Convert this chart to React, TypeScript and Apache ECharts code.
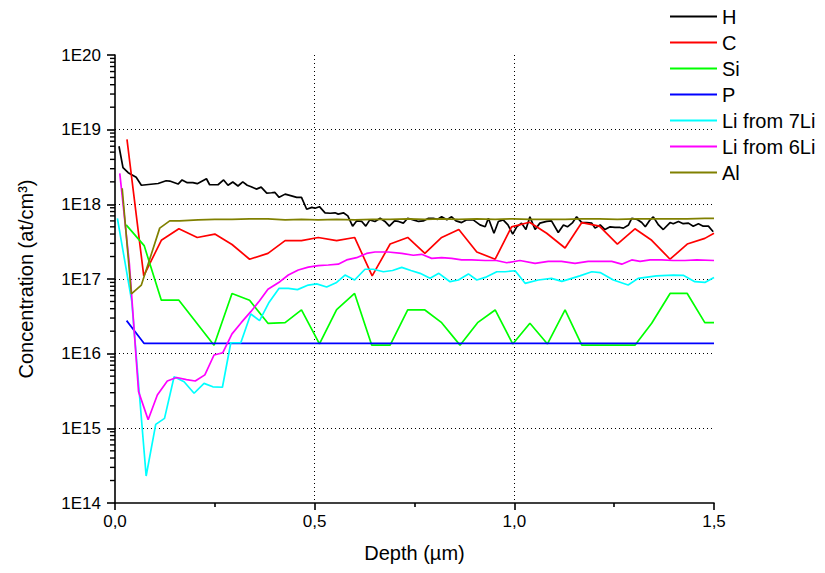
import React, { useEffect, useRef } from "react";
import * as echarts from "echarts";

const seriesNames = ["H", "C", "Si", "P", "Li from 7Li", "Li from 6Li", "Al"];
const seriesColors = ["#000000", "#ff0000", "#00ff00", "#0000ff", "#00ffff", "#ff00ff", "#808000"];

const hDepth = [0.010, 0.020, 0.033, 0.053, 0.066, 0.108, 0.128, 0.137, 0.158, 0.168, 0.181, 0.195, 0.206, 0.229, 0.237, 0.258, 0.272, 0.283, 0.295, 0.308, 0.320, 0.331, 0.341, 0.354, 0.366, 0.380, 0.392, 0.400, 0.411, 0.426, 0.442, 0.455, 0.467, 0.480, 0.493, 0.501, 0.512, 0.526, 0.539, 0.551, 0.559, 0.572, 0.583, 0.595, 0.605, 0.618, 0.628, 0.638, 0.651, 0.664, 0.676, 0.687, 0.700, 0.710, 0.722, 0.733, 0.747, 0.760, 0.772, 0.785, 0.797, 0.808, 0.818, 0.831, 0.843, 0.854, 0.868, 0.881, 0.897, 0.914, 0.927, 0.935, 0.949, 0.960, 0.972, 0.984, 0.996, 1.006, 1.018, 1.029, 1.039, 1.052, 1.064, 1.081, 1.093, 1.110, 1.123, 1.133, 1.146, 1.156, 1.169, 1.181, 1.194, 1.202, 1.215, 1.227, 1.240, 1.252, 1.265, 1.273, 1.286, 1.294, 1.307, 1.319, 1.328, 1.340, 1.348, 1.361, 1.373, 1.390, 1.398, 1.411, 1.423, 1.436, 1.448, 1.461, 1.473, 1.486, 1.498];
const hConc = [6.0e18, 3.1e18, 2.65e18, 2.3e18, 1.8e18, 1.9e18, 2.07e18, 2.05e18, 1.87e18, 2.12e18, 1.95e18, 1.95e18, 1.89e18, 2.2e18, 1.83e18, 1.83e18, 2.12e18, 1.8e18, 1.99e18, 1.76e18, 2.0e18, 1.8e18, 1.72e18, 1.6e18, 1.7e18, 1.41e18, 1.43e18, 1.45e18, 1.24e18, 1.37e18, 1.3e18, 1.24e18, 1.24e18, 8.6e17, 9.1e17, 8.85e17, 9.3e17, 7.7e17, 7.6e17, 7.7e17, 7.4e17, 7.7e17, 7.0e17, 5.1e17, 6.0e17, 5.9e17, 5.1e17, 6.2e17, 5.9e17, 6.5e17, 5.9e17, 5.1e17, 6.0e17, 5.9e17, 5.6e17, 6.5e17, 6.2e17, 5.9e17, 6.0e17, 6.5e17, 6.5e17, 6.3e17, 6.8e17, 6.2e17, 6.8e17, 6.0e17, 5.7e17, 6.2e17, 6.2e17, 5.3e17, 5.0e17, 6.5e17, 4.1e17, 5.9e17, 6.2e17, 5.3e17, 4.0e17, 5.0e17, 5.6e17, 4.6e17, 6.8e17, 4.6e17, 5.6e17, 5.9e17, 6.0e17, 4.2e17, 5.3e17, 5.0e17, 5.7e17, 6.8e17, 5.7e17, 5.7e17, 5.6e17, 4.8e17, 5.3e17, 4.6e17, 5.0e17, 4.9e17, 4.9e17, 4.8e17, 5.3e17, 6.5e17, 6.3e17, 5.7e17, 5.0e17, 6.2e17, 6.8e17, 5.3e17, 4.6e17, 5.7e17, 5.5e17, 5.9e17, 5.5e17, 5.6e17, 5.1e17, 5.5e17, 5.1e17, 5.1e17, 4.3e17];

const cDepth = [0.030, 0.072, 0.116, 0.160, 0.206, 0.250, 0.293, 0.337, 0.383, 0.426, 0.467, 0.509, 0.555, 0.600, 0.644, 0.689, 0.733, 0.776, 0.818, 0.861, 0.906, 0.952, 0.993, 1.038, 1.081, 1.127, 1.169, 1.213, 1.258, 1.302, 1.344, 1.390, 1.433, 1.477, 1.500];
const cConc = [7.4e18, 1.1e17, 3.3e17, 4.7e17, 3.6e17, 4.0e17, 2.9e17, 1.84e17, 2.2e17, 3.26e17, 3.26e17, 3.6e17, 3.26e17, 3.6e17, 1.1e17, 2.94e17, 3.6e17, 2.2e17, 3.6e17, 4.6e17, 2.3e17, 1.84e17, 5.0e17, 5.75e17, 4.1e17, 2.6e17, 5.7e17, 5.1e17, 2.94e17, 4.7e17, 3.3e17, 1.84e17, 2.94e17, 3.5e17, 4.1e17];

const siDepth = [0.028, 0.073, 0.116, 0.160, 0.248, 0.293, 0.337, 0.383, 0.426, 0.467, 0.512, 0.555, 0.600, 0.643, 0.689, 0.733, 0.776, 0.818, 0.864, 0.908, 0.952, 0.996, 1.039, 1.083, 1.127, 1.169, 1.302, 1.344, 1.390, 1.433, 1.477, 1.500];
const siConc = [5.3e17, 2.8e17, 5.2e16, 5.2e16, 1.3e16, 6.4e16, 5.2e16, 2.55e16, 2.6e16, 3.85e16, 1.35e16, 3.9e16, 6.4e16, 1.3e16, 1.3e16, 3.85e16, 3.85e16, 2.6e16, 1.3e16, 2.6e16, 3.85e16, 1.35e16, 2.55e16, 1.35e16, 3.85e16, 1.3e16, 1.3e16, 2.55e16, 6.4e16, 6.4e16, 2.6e16, 2.6e16];

const pDepth = [0.029, 0.073, 1.500];
const pConc = [2.77e16, 1.37e16, 1.37e16];

const li7Depth = [0.006, 0.042, 0.078, 0.102, 0.124, 0.148, 0.173, 0.198, 0.223, 0.245, 0.269, 0.290, 0.315, 0.340, 0.362, 0.386, 0.411, 0.434, 0.457, 0.484, 0.505, 0.530, 0.555, 0.576, 0.600, 0.626, 0.647, 0.672, 0.695, 0.718, 0.741, 0.764, 0.789, 0.811, 0.839, 0.860, 0.885, 0.906, 0.927, 0.956, 0.977, 1.002, 1.027, 1.060, 1.093, 1.119, 1.164, 1.194, 1.215, 1.248, 1.285, 1.310, 1.356, 1.398, 1.423, 1.452, 1.477, 1.500];
const li7Conc = [6.5e17, 5.0e16, 2.3e14, 1.13e15, 1.36e15, 4.9e15, 4.2e15, 2.95e15, 4.0e15, 3.6e15, 3.55e15, 1.4e16, 1.4e16, 3.4e16, 2.77e16, 4.9e16, 7.5e16, 7.5e16, 7.2e16, 8.3e16, 8.6e16, 7.8e16, 9.0e16, 1.13e17, 9.7e16, 1.35e17, 1.35e17, 1.25e17, 1.3e17, 1.43e17, 1.3e17, 1.19e17, 1.02e17, 1.19e17, 9.2e16, 9.7e16, 1.17e17, 9.7e16, 1.05e17, 1.25e17, 1.25e17, 1.29e17, 8.75e16, 9.7e16, 1.02e17, 9.3e16, 1.1e17, 1.25e17, 1.22e17, 9.7e16, 8.3e16, 1.02e17, 1.1e17, 1.13e17, 1.12e17, 9.2e16, 9.0e16, 1.05e17];

const li6Depth = [0.012, 0.036, 0.059, 0.083, 0.106, 0.131, 0.154, 0.179, 0.201, 0.225, 0.248, 0.270, 0.293, 0.316, 0.340, 0.362, 0.383, 0.413, 0.434, 0.459, 0.484, 0.509, 0.534, 0.559, 0.580, 0.605, 0.630, 0.651, 0.684, 0.718, 0.747, 0.768, 0.793, 0.818, 0.843, 0.868, 0.893, 0.927, 0.955, 0.981, 1.014, 1.052, 1.085, 1.118, 1.152, 1.185, 1.219, 1.244, 1.269, 1.294, 1.315, 1.340, 1.369, 1.398, 1.427, 1.457, 1.500];
const li6Conc = [2.6e18, 1.6e17, 3.1e15, 1.3e15, 2.8e15, 4.3e15, 4.8e15, 4.5e15, 4.3e15, 5.2e15, 9.6e15, 1.03e16, 1.84e16, 2.6e16, 3.65e16, 5.1e16, 7.3e16, 9.2e16, 1.13e17, 1.32e17, 1.44e17, 1.51e17, 1.54e17, 1.58e17, 1.8e17, 1.93e17, 2.2e17, 2.3e17, 2.3e17, 2.2e17, 2.08e17, 2.14e17, 1.89e17, 1.93e17, 1.89e17, 1.8e17, 1.8e17, 1.77e17, 1.77e17, 1.65e17, 1.77e17, 1.62e17, 1.72e17, 1.72e17, 1.62e17, 1.72e17, 1.72e17, 1.72e17, 1.58e17, 1.8e17, 1.72e17, 1.8e17, 1.8e17, 1.77e17, 1.77e17, 1.8e17, 1.77e17];

const alDepth = [0.018, 0.041, 0.066, 0.112, 0.137, 0.162, 0.208, 0.250, 0.293, 0.337, 0.383, 0.426, 0.467, 0.509, 0.555, 0.600, 0.644, 0.689, 0.733, 0.776, 0.818, 0.861, 0.906, 0.952, 0.996, 1.039, 1.083, 1.127, 1.169, 1.213, 1.258, 1.302, 1.344, 1.390, 1.433, 1.477, 1.500];
const alConc = [1.64e18, 6.3e16, 8.3e16, 4.8e17, 6.0e17, 6.0e17, 6.2e17, 6.3e17, 6.3e17, 6.4e17, 6.4e17, 6.2e17, 6.3e17, 6.2e17, 6.3e17, 6.2e17, 6.3e17, 6.3e17, 6.4e17, 6.3e17, 6.4e17, 6.3e17, 6.4e17, 6.3e17, 6.4e17, 6.3e17, 6.3e17, 6.3e17, 6.4e17, 6.4e17, 6.3e17, 6.4e17, 6.4e17, 6.4e17, 6.4e17, 6.5e17, 6.5e17];

const xTicks = [0, 0.5, 1.0, 1.5];
const yDecades = [14, 15, 16, 17, 18, 19, 20];
const minorMultipliers = [2, 3, 4, 5, 6, 7, 8, 9];

const FONT = "'Liberation Sans', Arial, sans-serif";

function zip(xs: number[], ys: number[]) {
  return xs.map((x, i) => [x, ys[i]]);
}

export default function App() {
  const ref = useRef<HTMLDivElement>(null);
  useEffect(() => {
    if (!ref.current) return;
    const chart = echarts.init(ref.current, undefined, { renderer: "svg" });
    const allDepths = [hDepth, cDepth, siDepth, pDepth, li7Depth, li6Depth, alDepth];
    const allConc = [hConc, cConc, siConc, pConc, li7Conc, li6Conc, alConc];
    const minorVals: number[][] = [];
    for (let i = 0; i < yDecades.length - 1; i++) {
      for (const m of minorMultipliers) minorVals.push([0, m * Math.pow(10, yDecades[i])]);
    }
    const lineSeries = seriesNames.map((name, i) => ({
      name,
      type: "line",
      data: zip(allDepths[i], allConc[i]),
      symbol: "none",
      showSymbol: false,
      lineStyle: { color: seriesColors[i], width: 1.7 },
      itemStyle: { color: seriesColors[i] },
      clip: true,
      z: 3,
    }));
    chart.setOption({
      animation: false,
      textStyle: { fontFamily: FONT },
      grid: { left: 115, right: 111, top: 55, bottom: 70, containLabel: false },
      legend: {
        data: seriesNames,
        orient: "vertical",
        left: 665,
        top: 1,
        icon: "rect",
        itemWidth: 47,
        itemHeight: 2,
        itemGap: 5,
        textStyle: { fontFamily: FONT, fontSize: 20, color: "#000", lineHeight: 21 },
      },
      xAxis: {
        type: "value",
        min: xTicks[0],
        max: xTicks[xTicks.length - 1],
        interval: 0.5,
        name: "Depth (µm)",
        nameLocation: "middle",
        nameGap: 40,
        nameTextStyle: { fontFamily: FONT, fontSize: 20, color: "#000" },
        axisLine: { show: true, onZero: false, lineStyle: { color: "#000", width: 1.6 } },
        axisTick: { show: true, inside: false, length: 7, lineStyle: { color: "#000", width: 1.6 } },
        minorTick: { show: true, splitNumber: 2, length: 4, lineStyle: { color: "#000", width: 1.6 } },
        axisLabel: {
          fontFamily: FONT,
          fontSize: 17,
          color: "#000",
          margin: 10,
          formatter: (v: number) => v.toFixed(1).replace(".", ","),
        },
        splitLine: {
          show: true,
          showMinLine: false,
          showMaxLine: false,
          lineStyle: { color: "#000", width: 1, type: [1, 3] },
        },
      },
      yAxis: {
        type: "log",
        logBase: 10,
        min: Math.pow(10, yDecades[0]),
        max: Math.pow(10, yDecades[yDecades.length - 1]),
        splitNumber: 6,
        name: "Concentration (at/cm³)",
        nameLocation: "middle",
        nameGap: 79,
        nameTextStyle: { fontFamily: FONT, fontSize: 20, color: "#000" },
        axisLine: { show: true, onZero: false, lineStyle: { color: "#000", width: 1.6 } },
        axisTick: { show: true, inside: false, length: 8, lineStyle: { color: "#000", width: 1.6 } },
        axisLabel: {
          fontFamily: FONT,
          fontSize: 17,
          color: "#000",
          margin: 14,
          formatter: (v: number) => "1E" + Math.round(Math.log10(v)),
        },
        splitLine: {
          show: true,
          showMinLine: false,
          showMaxLine: false,
          lineStyle: { color: "#000", width: 1, type: [1, 3] },
        },
      },
      series: [
        ...lineSeries,
        {
          name: "minorTicks",
          type: "custom",
          silent: true,
          clip: false,
          z: 5,
          data: minorVals,
          renderItem: (_params: any, api: any) => {
            const p = api.coord([0, api.value(1)]);
            return {
              type: "line",
              shape: { x1: p[0] - 5, y1: p[1], x2: p[0], y2: p[1] },
              style: { stroke: "#000", lineWidth: 1.4 },
            };
          },
        },
      ],
    });
    return () => chart.dispose();
  }, []);
  return (
    <div
      ref={ref}
      style={{ position: "absolute", left: 0, top: 0, width: 825, height: 573 }}
    />
  );
}
